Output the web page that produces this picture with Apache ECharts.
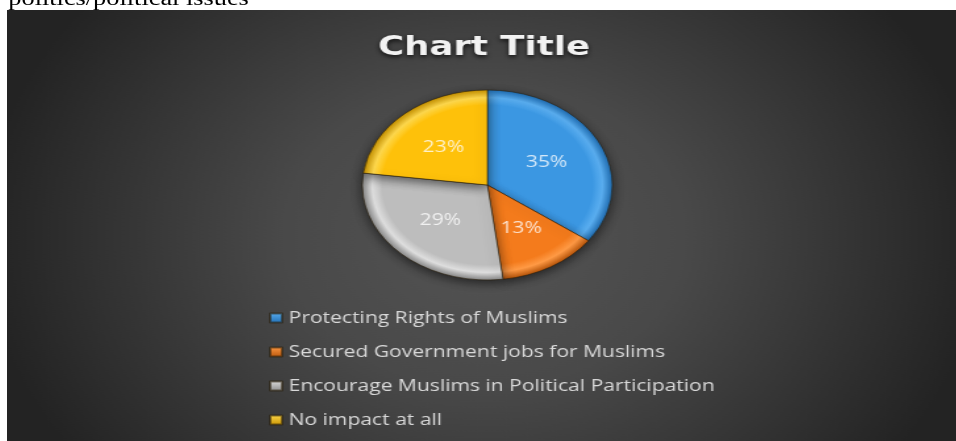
<!DOCTYPE html>
<html>
<head>
<meta charset="utf-8">
<script src="https://cdn.jsdelivr.net/npm/echarts@6/dist/echarts.min.js"></script>
<style>
  html, body { margin: 0; padding: 0; background: #ffffff; overflow: hidden; width: 956px; height: 441px; }
  #wrap { position: absolute; left: 7px; top: 0; width: 725px; height: 441px;
          transform: scaleX(1.316); transform-origin: 0 0; }
  #cap { position: absolute; left: 1px; top: -12px; font: 20px/20px "Liberation Serif", "Times New Roman", serif;
         color: #000; white-space: nowrap; }
  #chart { position: absolute; left: 0; top: 10px; width: 725px; height: 450px; }
</style>
</head>
<body>
<div id="wrap">
  <div id="cap">politics/political issues</div>
  <div id="chart"></div>
</div>
<script>
// Survey answers and their share of respondents (%)
const categories = [
  'Protecting Rights of Muslims',
  'Secured Government jobs for Muslims',
  'Encourage Muslims in Political Participation',
  'No impact at all'
];
const shares = [35, 13, 29, 23];
const chartTitle = 'Chart Title';

// Slice palette: [base, rim highlight, rim shadow]
const palette = [
  ['#3b97e2', '#5aaef0', '#1f6db3'],
  ['#f47b1c', '#ff9a45', '#b8550a'],
  ['#bdbdbd', '#dedede', '#8a8a8a'],
  ['#fec10a', '#ffd94d', '#c79200']
];

const CX = 365, CY = 175, R = 95;

function bevel(c) {
  return {
    type: 'radial', x: CX, y: CY, r: R, global: true,
    colorStops: [
      { offset: 0, color: c[0] },
      { offset: 0.84, color: c[0] },
      { offset: 0.92, color: c[1] },
      { offset: 1, color: c[2] }
    ]
  };
}
function chip(c) {
  return {
    type: 'linear', x: 0, y: 0, x2: 0, y2: 1,
    colorStops: [
      { offset: 0, color: c[1] },
      { offset: 1, color: c[2] }
    ]
  };
}

const chart = echarts.init(document.getElementById('chart'), null, { renderer: 'canvas' });
chart.setOption({
  animation: false,
  backgroundColor: {
    type: 'radial', x: 0.5, y: 0.5, r: 0.85,
    colorStops: [
      { offset: 0, color: '#545454' },
      { offset: 0.4, color: '#494949' },
      { offset: 1, color: '#232323' }
    ]
  },
  title: {
    text: chartTitle,
    left: 'center',
    top: 24,
    padding: 0,
    textStyle: {
      color: '#f2f2f2',
      fontFamily: 'DejaVu Sans',
      fontWeight: 'bold',
      fontSize: 27,
      textShadowColor: 'rgba(0,0,0,0.75)',
      textShadowBlur: 4,
      textShadowOffsetY: 2
    }
  },
  legend: {
    orient: 'vertical',
    left: 199,
    top: 298,
    icon: 'rect',
    itemWidth: 9,
    itemHeight: 9,
    itemGap: 14,
    itemTextGap: 5,
    padding: 0,
    data: categories.map((name, i) => ({ name, itemStyle: { color: chip(palette[i]) } })),
    textStyle: { color: '#d9d9d9', fontFamily: 'Open Sans', fontSize: 16, lineHeight: 20 }
  },
  series: [{
    type: 'pie',
    center: [CX, CY],
    radius: R,
    startAngle: 90,
    clockwise: true,
    silent: true,
    itemStyle: {
      borderColor: 'rgba(40,30,10,0.55)',
      borderWidth: 1,
      shadowColor: 'rgba(0,0,0,0.55)',
      shadowBlur: 10,
      shadowOffsetY: 3
    },
    label: {
      show: true,
      position: 'inside',
      formatter: '{c}%',
      color: 'rgba(255,255,255,0.78)',
      fontFamily: 'Open Sans',
      fontSize: 16
    },
    labelLine: { show: false },
    data: categories.map((name, i) => ({
      name,
      value: shares[i],
      itemStyle: { color: bevel(palette[i]) }
    }))
  }]
});
</script>
</body>
</html>
